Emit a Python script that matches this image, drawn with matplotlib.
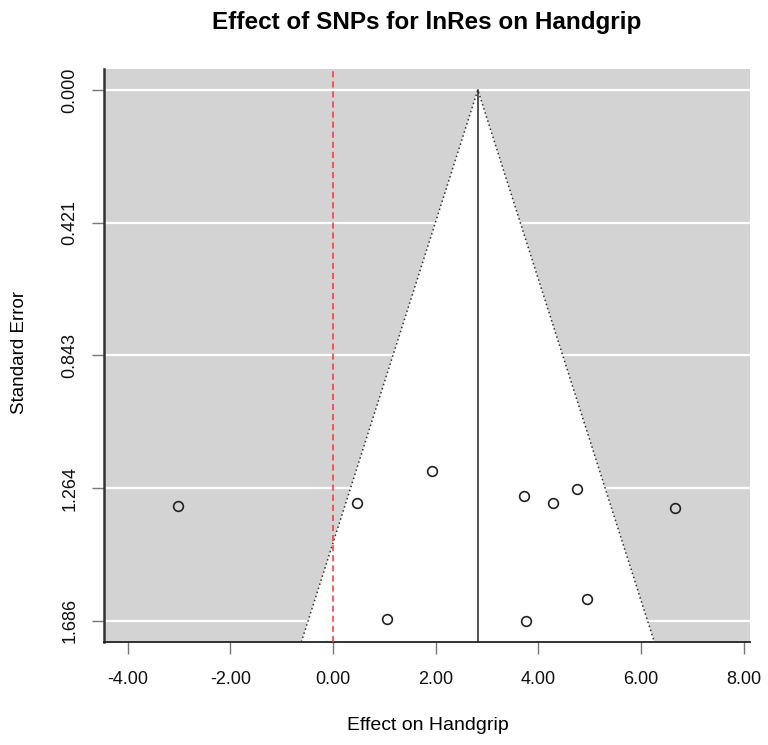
import numpy as np
import matplotlib
matplotlib.use("Agg")
import matplotlib.pyplot as plt
from matplotlib.patches import Polygon

plt.rcParams['font.family'] = ['Liberation Sans', 'DejaVu Sans']

# SNP effect estimates and their standard errors
effects = [-3.02, 0.46, 1.93, 1.06, 3.72, 4.29, 4.76, 4.94, 3.76, 6.66]
std_errs = [1.322, 1.311, 1.211, 1.679, 1.289, 1.311, 1.266, 1.616, 1.686, 1.328]
pooled = 2.82
ref_value = 0.0

x_ticks = [-4, -2, 0, 2, 4, 6, 8]
y_tick_labels = ["0.000", "0.421", "0.843", "1.264", "1.686"]

se_max = max(std_errs)
y_ticks = np.linspace(0, se_max, 5)

W, H = 768, 745
fig = plt.figure(figsize=(W / 100, H / 100), dpi=100)
ax = fig.add_axes([104 / W, 1 - 642 / H, (750 - 104) / W, (642 - 68.6) / H])

xlim = (-4.46, 8.12)
ylim = (se_max + 0.04 * se_max, -0.04 * se_max)
ax.set_xlim(*xlim)
ax.set_ylim(*ylim)
ax.set_facecolor('lightgray')

# horizontal guide lines at the standard-error ticks
for yt in y_ticks:
    ax.axhline(yt, color='white', lw=1.6, zorder=1)

# pseudo confidence region (white funnel)
se_bottom = ylim[0]
funnel = Polygon([(pooled - 1.96 * se_bottom, se_bottom), (pooled, 0),
                  (pooled + 1.96 * se_bottom, se_bottom)],
                 closed=True, facecolor='white', edgecolor='none', zorder=2)
ax.add_patch(funnel)
ax.plot([pooled - 1.96 * se_bottom, pooled, pooled + 1.96 * se_bottom],
        [se_bottom, 0, se_bottom], color='#333333', lw=1.1,
        linestyle=(0, (1, 1.8)), zorder=3)

# pooled estimate and null reference
ax.plot([pooled, pooled], [0, se_bottom], color='#222222', lw=1.1, zorder=3)
ax.axvline(ref_value, color='#ff3030', lw=1.1, linestyle=(0, (4, 2.6)), zorder=3)

ax.plot(effects, std_errs, linestyle='none', marker='o', markersize=7,
        markerfacecolor='none', markeredgecolor='#222222', markeredgewidth=1.2,
        zorder=4)

ax.set_xticks(x_ticks)
ax.set_xticklabels(["%.2f" % v for v in x_ticks])
ax.set_yticks(y_ticks)
ax.set_yticklabels(y_tick_labels, rotation=90, va='center')

for side in ['top', 'right']:
    ax.spines[side].set_visible(False)
ax.spines['left'].set_color('#333333')
ax.spines['left'].set_linewidth(1.8)
ax.spines['bottom'].set_color('#222222')
ax.spines['bottom'].set_linewidth(1.3)
ax.tick_params(axis='both', direction='out', length=8.6, width=1.0,
               color='#777777', labelsize=13, labelcolor='#111111')
ax.tick_params(axis='x', pad=12)
ax.tick_params(axis='y', pad=10)

fig.text(427 / W, 1 - 23 / H, "Effect of SNPs for lnRes on Handgrip",
         ha='center', va='center', fontsize=17.5, fontweight='bold')
fig.text(428 / W, 1 - 725 / H, "Effect on Handgrip", ha='center',
         va='center', fontsize=14)
fig.text(20 / W, 1 - 352 / H, "Standard Error", ha='center', va='center',
         rotation=90, fontsize=13.5)

fig.savefig('out.png', dpi=100)
